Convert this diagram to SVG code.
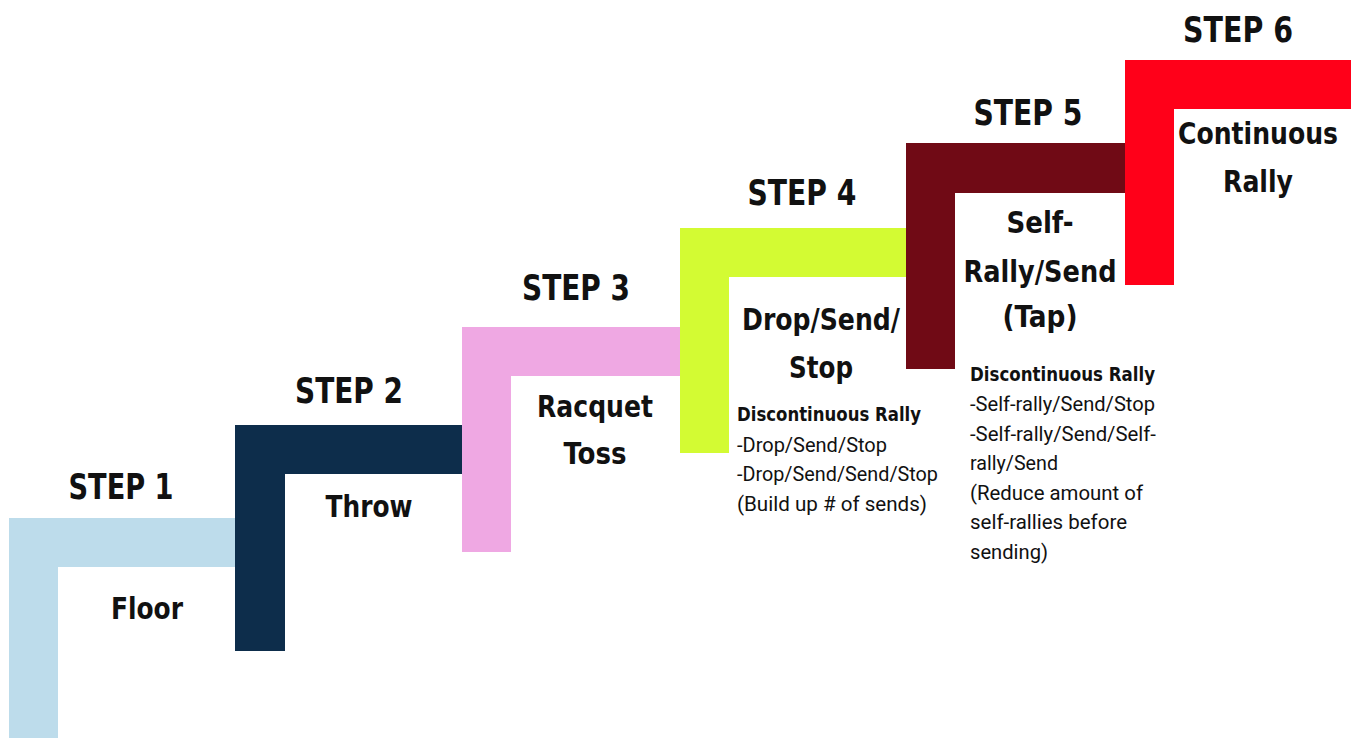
<svg xmlns="http://www.w3.org/2000/svg" width="1351" height="738" viewBox="0 0 1351 738">
<style>
.h{font-family:"DejaVu Sans Condensed","DejaVu Sans",sans-serif;font-stretch:condensed;font-weight:bold;font-size:36px;fill:#111;text-anchor:middle}
.l{font-family:"DejaVu Sans Condensed","DejaVu Sans",sans-serif;font-stretch:condensed;font-weight:bold;font-size:31px;fill:#111;text-anchor:middle}
.b{font-family:"DejaVu Sans Condensed","DejaVu Sans",sans-serif;font-stretch:condensed;font-weight:bold;font-size:19px;fill:#111}
.r{font-family:Roboto,"Liberation Sans",sans-serif;font-size:19.5px;fill:#111}
</style>
<rect width="1351" height="738" fill="#fff"/>
<g id="step1">
<path d="M9,738 V518 H235 V567 H58 V738 Z" fill="#BDDCEB"/>
<text class="h" x="121" y="499" textLength="105" lengthAdjust="spacingAndGlyphs">STEP 1</text>
<text class="l" x="147" y="619" textLength="72" lengthAdjust="spacingAndGlyphs">Floor</text>
</g>
<g id="step2">
<path d="M235,651 V425 H462 V474 H285 V651 Z" fill="#0D2D4B"/>
<text class="h" x="349" y="403" textLength="108" lengthAdjust="spacingAndGlyphs">STEP 2</text>
<text class="l" x="369" y="517" textLength="87" lengthAdjust="spacingAndGlyphs">Throw</text>
</g>
<g id="step3">
<path d="M462,552 V327 H680 V376 H511 V552 Z" fill="#EFA8E3"/>
<text class="h" x="576" y="300" textLength="108" lengthAdjust="spacingAndGlyphs">STEP 3</text>
<text class="l" x="595" y="417" textLength="116" lengthAdjust="spacingAndGlyphs">Racquet</text>
<text class="l" x="595" y="464" textLength="63" lengthAdjust="spacingAndGlyphs">Toss</text>
</g>
<g id="step4">
<path d="M680,453 V228 H906 V277 H729 V453 Z" fill="#D3FB33"/>
<text class="h" x="802" y="205" textLength="109" lengthAdjust="spacingAndGlyphs">STEP 4</text>
<text class="l" x="821" y="330" textLength="158" lengthAdjust="spacingAndGlyphs">Drop/Send/</text>
<text class="l" x="821" y="378" textLength="64" lengthAdjust="spacingAndGlyphs">Stop</text>
<text class="b" x="737" y="421" textLength="184" lengthAdjust="spacingAndGlyphs">Discontinuous Rally</text>
<text class="r" x="737" y="452" textLength="150" lengthAdjust="spacingAndGlyphs">-Drop/Send/Stop</text>
<text class="r" x="737" y="481" textLength="201" lengthAdjust="spacingAndGlyphs">-Drop/Send/Send/Stop</text>
<text class="r" x="737" y="511" textLength="190" lengthAdjust="spacingAndGlyphs">(Build up # of sends)</text>
</g>
<g id="step5">
<path d="M906,369 V143 H1125 V193 H955 V369 Z" fill="#700A15"/>
<text class="h" x="1028" y="125" textLength="109" lengthAdjust="spacingAndGlyphs">STEP 5</text>
<text class="l" x="1040" y="233" textLength="67" lengthAdjust="spacingAndGlyphs">Self-</text>
<text class="l" x="1040" y="282" textLength="153" lengthAdjust="spacingAndGlyphs">Rally/Send</text>
<text class="l" x="1040" y="327" textLength="75" lengthAdjust="spacingAndGlyphs">(Tap)</text>
<text class="b" x="970" y="381" textLength="185" lengthAdjust="spacingAndGlyphs">Discontinuous Rally</text>
<text class="r" x="970" y="411" textLength="185" lengthAdjust="spacingAndGlyphs">-Self-rally/Send/Stop</text>
<text class="r" x="970" y="441" textLength="186" lengthAdjust="spacingAndGlyphs">-Self-rally/Send/Self-</text>
<text class="r" x="970" y="470" textLength="88" lengthAdjust="spacingAndGlyphs">rally/Send</text>
<text class="r" x="970" y="500" textLength="173" lengthAdjust="spacingAndGlyphs">(Reduce amount of</text>
<text class="r" x="970" y="529" textLength="157" lengthAdjust="spacingAndGlyphs">self-rallies before</text>
<text class="r" x="970" y="559" textLength="78" lengthAdjust="spacingAndGlyphs">sending)</text>
</g>
<g id="step6">
<path d="M1125,285 V60 H1351 V109 H1174 V285 Z" fill="#FF0019"/>
<text class="h" x="1238" y="42" textLength="110" lengthAdjust="spacingAndGlyphs">STEP 6</text>
<text class="l" x="1258" y="144" textLength="160" lengthAdjust="spacingAndGlyphs">Continuous</text>
<text class="l" x="1258" y="192" textLength="70" lengthAdjust="spacingAndGlyphs">Rally</text>
</g>
<g id="connectors"/>
</svg>
